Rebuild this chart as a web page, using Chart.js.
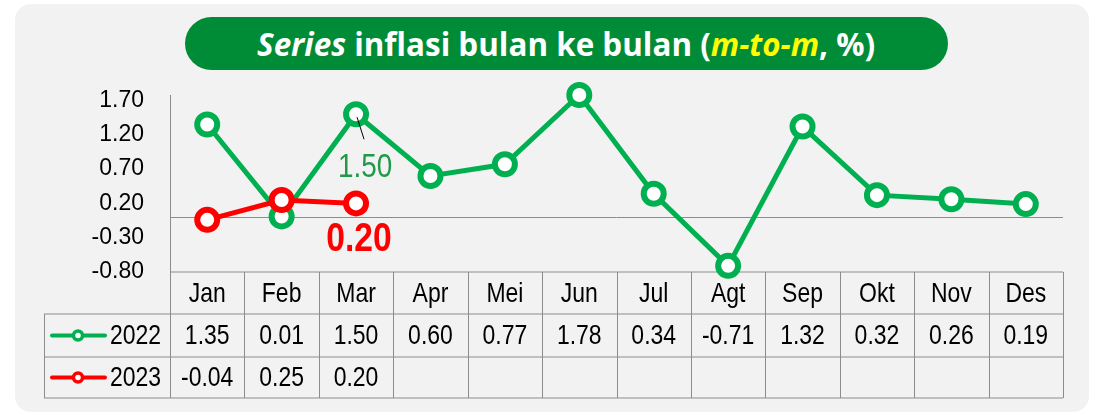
<!DOCTYPE html>
<html>
<head>
<meta charset="utf-8">
<script src="https://cdn.jsdelivr.net/npm/chart.js@4.4.0/dist/chart.umd.min.js"></script>
<style>
  body { margin: 0; background: #fff; }
  #wrap { position: relative; width: 1097px; height: 415px; }
  .panel { position: absolute; left: 15px; top: 4px; width: 1074px; height: 408px; background: #f2f2f2; border-radius: 16px; }
  .banner { position: absolute; left: 185px; top: 17px; width: 763px; height: 53px; border-radius: 27px; background: #008c37; text-align: center; }
  .banner span.t { display: inline-block; color: #fff; font: bold 32px 'Open Sans', sans-serif; line-height: 53px; white-space: nowrap; transform-origin: center; }
  .banner i.y { color: #ffff00; }
  canvas { position: absolute; left: 0; top: 0; }
</style>
</head>
<body>
<div id="wrap">
  <div class="panel"></div>
  <div class="banner"><span class="t" id="ttl"><i>Series</i> inflasi bulan ke bulan (<i class="y">m-to-m</i>, %)</span></div>
  <canvas id="myChart" width="1097" height="415"></canvas>
</div>
<script>
// data
var bulan = ['Jan', 'Feb', 'Mar', 'Apr', 'Mei', 'Jun', 'Jul', 'Agt', 'Sep', 'Okt', 'Nov', 'Des'];
var tahun = ['2022', '2023'];
var inflasi2022 = [1.35, 0.01, 1.50, 0.60, 0.77, 1.78, 0.34, -0.71, 1.32, 0.32, 0.26, 0.19];
var inflasi2023 = [-0.04, 0.25, 0.20, null, null, null, null, null, null, null, null, null];
var yTicks = [-0.80, -0.30, 0.20, 0.70, 1.20, 1.70];
var labelIdx = 2; // Mar dapat label

var hijau = '#00b050';
var merah = '#ff0000';
var garis = '#8c8c8c';

// fit title width like the original
var ttl = document.getElementById('ttl');
ttl.style.transform = 'scaleX(' + (618 / ttl.offsetWidth) + ')';

// no Arial Narrow here, so squeeze Liberation Sans
function tulisSempit(ctx, teks, x, y, align) {
  ctx.save();
  ctx.translate(x, y);
  ctx.scale(0.82, 1);
  ctx.textAlign = align || 'center';
  ctx.fillText(teks, 0, 0);
  ctx.restore();
}

var tabelPlugin = {
  id: 'tabel',
  beforeDatasetsDraw: function(chart) {
    var ctx = chart.ctx;
    var area = chart.chartArea;
    var x = chart.scales.x;
    var y = chart.scales.y;
    var rows = [area.bottom, area.bottom + 42, area.bottom + 85, area.bottom + 126];
    var legLeft = 44;

    ctx.save();
    ctx.strokeStyle = garis;
    ctx.lineWidth = 1;

    // garis nol
    var y0 = Math.round(y.getPixelForValue(0)) + 0.5;
    ctx.beginPath();
    ctx.moveTo(area.left, y0);
    ctx.lineTo(area.right, y0);
    ctx.stroke();

    // batas kolom
    var edges = [area.left];
    for (var i = 1; i < bulan.length; i++) {
      edges.push((x.getPixelForValue(i - 1) + x.getPixelForValue(i)) / 2);
    }
    edges.push(area.right);

    ctx.beginPath();
    ctx.moveTo(area.left, rows[0]); ctx.lineTo(area.right, rows[0]);
    for (var r = 1; r < rows.length; r++) {
      ctx.moveTo(legLeft, rows[r]); ctx.lineTo(area.right, rows[r]);
    }
    for (var e = 0; e < edges.length; e++) {
      ctx.moveTo(Math.round(edges[e]) + 0.5, rows[0]);
      ctx.lineTo(Math.round(edges[e]) + 0.5, rows[3]);
    }
    ctx.moveTo(legLeft + 0.5, rows[1]); ctx.lineTo(legLeft + 0.5, rows[3]);
    ctx.stroke();

    // teks tabel
    ctx.fillStyle = '#000';
    ctx.font = '28px "Liberation Sans", Arial, sans-serif';
    ctx.textBaseline = 'middle';
    for (var m = 0; m < bulan.length; m++) {
      var cx = x.getPixelForValue(m);
      tulisSempit(ctx, bulan[m], cx, (rows[0] + rows[1]) / 2 + 1);
      tulisSempit(ctx, inflasi2022[m].toFixed(2), cx, (rows[1] + rows[2]) / 2 + 1);
      if (inflasi2023[m] != null)
        tulisSempit(ctx, inflasi2023[m].toFixed(2), cx, (rows[2] + rows[3]) / 2 + 1);
    }

    // legenda di tabel
    var warna = [hijau, merah];
    for (var k = 0; k < tahun.length; k++) {
      var cy = (rows[k + 1] + rows[k + 2]) / 2;
      ctx.strokeStyle = warna[k];
      ctx.lineWidth = 4;
      ctx.lineCap = 'round';
      ctx.beginPath();
      ctx.moveTo(52, cy); ctx.lineTo(105, cy);
      ctx.stroke();
      ctx.beginPath();
      ctx.arc(78, cy, 4.5, 0, Math.PI * 2);
      ctx.fillStyle = '#fff';
      ctx.fill();
      ctx.lineWidth = 3.5;
      ctx.stroke();
      ctx.fillStyle = '#000';
      tulisSempit(ctx, tahun[k], 110, cy + 1, 'left');
    }
    ctx.restore();
  },
  afterDatasetsDraw: function(chart) {
    var ctx = chart.ctx;
    var x = chart.scales.x;
    var y = chart.scales.y;
    var px = x.getPixelForValue(labelIdx);
    var py1 = y.getPixelForValue(inflasi2022[labelIdx]);
    var py2 = y.getPixelForValue(inflasi2023[labelIdx]);

    ctx.save();
    ctx.strokeStyle = '#000';
    ctx.lineWidth = 1;
    ctx.beginPath();
    ctx.moveTo(px + 1, py1 + 3);
    ctx.lineTo(px + 8, py1 + 25);
    ctx.stroke();

    ctx.textBaseline = 'middle';
    ctx.fillStyle = '#22994a';
    ctx.font = '34px "Liberation Sans", Arial, sans-serif';
    tulisSempit(ctx, inflasi2022[labelIdx].toFixed(2), px + 9, py1 + 53);

    ctx.fillStyle = merah;
    ctx.font = 'bold 41px "Liberation Sans", Arial, sans-serif';
    tulisSempit(ctx, inflasi2023[labelIdx].toFixed(2), px + 3, py2 + 36);
    ctx.restore();
  }
};

var ctx = document.getElementById('myChart').getContext('2d');
var myChart = new Chart(ctx, {
  type: 'line',
  data: {
    labels: bulan,
    datasets: [
      {
        label: tahun[0],
        data: inflasi2022,
        borderColor: hijau,
        borderWidth: 5,
        pointRadius: 10,
        pointBorderWidth: 6,
        pointBackgroundColor: '#fff',
        pointBorderColor: hijau,
        clip: false,
        order: 2
      },
      {
        label: tahun[1],
        data: inflasi2023,
        borderColor: merah,
        borderWidth: 5,
        pointRadius: 10,
        pointBorderWidth: 6,
        pointBackgroundColor: '#fff',
        pointBorderColor: merah,
        clip: false,
        order: 1
      }
    ]
  },
  options: {
    responsive: false,
    animation: false,
    layout: { padding: { left: 44, right: 34, top: 95, bottom: 143 } },
    plugins: { legend: { display: false }, tooltip: { enabled: false } },
    scales: {
      x: { type: 'category', display: false, offset: true },
      y: {
        min: -0.8,
        max: 1.78,
        afterBuildTicks: function(scale) {
          scale.ticks = yTicks.map(function(v) { return { value: v }; });
        },
        afterFit: function(scale) { scale.width = 126; },
        grid: { display: false, drawTicks: false },
        border: { display: true, color: garis, width: 1 },
        ticks: {
          padding: 26,
          color: '#000',
          font: { family: 'Liberation Sans', size: 23 },
          callback: function(v) { return Number(v).toFixed(2); }
        }
      }
    }
  },
  plugins: [tabelPlugin]
});
</script>
</body>
</html>
